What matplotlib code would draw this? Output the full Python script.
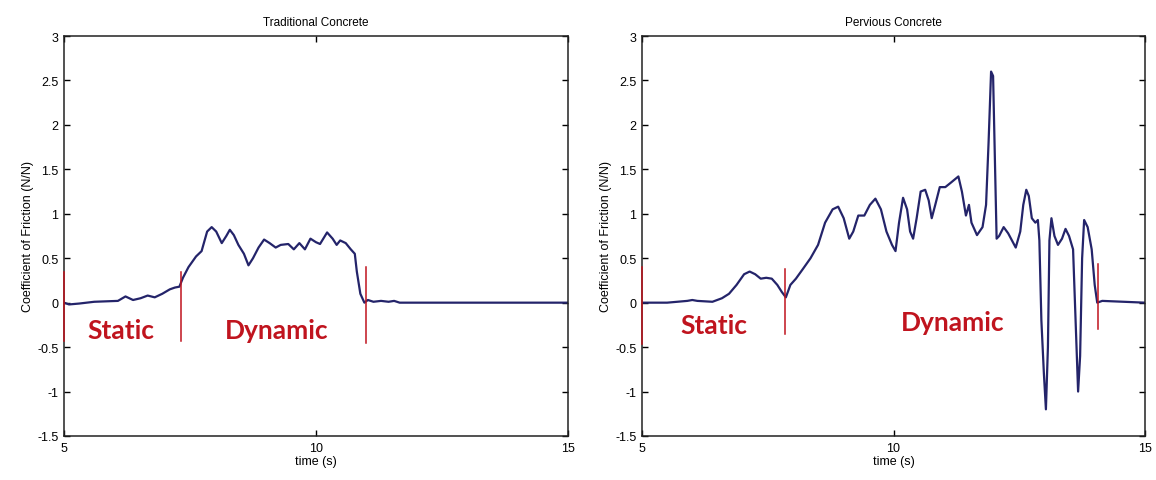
import matplotlib
matplotlib.use("Agg")
import matplotlib.pyplot as plt
import numpy as np

# Traditional concrete trace
trad_t = [5.0, 5.1, 5.3, 5.6, 6.07, 6.22, 6.37, 6.52, 6.66, 6.8, 6.95, 7.1, 7.2, 7.29, 7.36, 7.47,
          7.62, 7.73, 7.84, 7.93, 8.02, 8.13, 8.22, 8.29, 8.37, 8.46, 8.57, 8.66, 8.75, 8.86,
          8.97, 9.08, 9.2, 9.3, 9.45, 9.56, 9.67, 9.78, 9.89, 10.0, 10.08, 10.22, 10.33, 10.41,
          10.48, 10.59, 10.69, 10.77, 10.81, 10.88, 10.96, 11.03, 11.14, 11.29, 11.44, 11.55,
          11.66, 15.0]
trad_mu = [0.0, -0.02, -0.01, 0.01, 0.02, 0.07, 0.03, 0.05, 0.08, 0.06, 0.1, 0.15, 0.17, 0.18,
           0.28, 0.4, 0.52, 0.58, 0.8, 0.85, 0.8, 0.67, 0.75, 0.82, 0.76, 0.65, 0.55, 0.42, 0.5,
           0.62, 0.71, 0.67, 0.62, 0.65, 0.66, 0.6, 0.67, 0.6, 0.72, 0.68, 0.66, 0.79, 0.72,
           0.65, 0.7, 0.67, 0.6, 0.55, 0.35, 0.1, 0.0, 0.03, 0.01, 0.02, 0.01, 0.02, 0.0, 0.0]

# Pervious concrete trace
perv_t = [5.0, 5.5, 5.9, 6.0, 6.1, 6.4, 6.59, 6.73, 6.88, 7.03, 7.14, 7.25, 7.36, 7.47, 7.58,
          7.69, 7.78, 7.86, 7.95, 8.06, 8.2, 8.35, 8.5, 8.64, 8.79, 8.9, 9.01, 9.12, 9.2, 9.3,
          9.42, 9.53, 9.64, 9.75, 9.86, 9.97, 10.04, 10.11, 10.19, 10.27, 10.33, 10.39, 10.46,
          10.54, 10.63, 10.7, 10.76, 10.83, 10.92, 11.03, 11.14, 11.29, 11.36, 11.44, 11.5,
          11.55, 11.66, 11.77, 11.84, 11.89, 11.94, 11.98, 12.02, 12.05, 12.1, 12.19, 12.28,
          12.43, 12.52, 12.58, 12.64, 12.69, 12.75, 12.82, 12.87, 12.9, 12.94, 12.99, 13.03,
          13.07, 13.1, 13.14, 13.2, 13.27, 13.35, 13.42, 13.49, 13.57, 13.62, 13.67, 13.71,
          13.75, 13.79, 13.86, 13.94, 14.0, 14.05, 14.15, 15.0]
perv_mu = [0.0, 0.0, 0.02, 0.03, 0.02, 0.01, 0.05, 0.1, 0.2, 0.32, 0.35, 0.32, 0.27, 0.28, 0.27,
           0.2, 0.12, 0.06, 0.2, 0.27, 0.38, 0.5, 0.65, 0.9, 1.05, 1.08, 0.95, 0.72, 0.8, 0.98,
           0.98, 1.1, 1.17, 1.05, 0.8, 0.65, 0.58, 0.9, 1.18, 1.05, 0.8, 0.72, 0.95,
           1.25, 1.27, 1.15, 0.95, 1.1, 1.3, 1.3, 1.35, 1.42, 1.25, 0.98, 1.1,
           0.9, 0.76, 0.85, 1.1, 1.8, 2.6, 2.55, 1.5, 0.72, 0.75, 0.85, 0.78,
           0.62, 0.8, 1.1, 1.27, 1.2, 0.95, 0.9, 0.93, 0.7, -0.2, -0.8, -1.2,
           -0.5, 0.7, 0.95, 0.75, 0.65, 0.72, 0.83, 0.75, 0.6, -0.2, -1.0, -0.6,
           0.5, 0.93, 0.85, 0.6, 0.2, 0.0, 0.02, 0.0]

titles = ["Traditional Concrete", "Pervious Concrete"]
x_ticks = [5, 10, 15]
y_ticks = [-1.5, -1, -0.5, 0, 0.5, 1, 1.5, 2, 2.5, 3]
y_tick_labels = ["-1.5", "-1", "-0.5", "0", "0.5", "1", "1.5", "2", "2.5", "3"]

# phase markers: (x, y_low, y_high)
trad_markers = [(5.0, -0.43, 0.35), (7.32, -0.43, 0.35), (11.0, -0.45, 0.4)]
perv_markers = [(5.0, -0.47, 0.4), (7.84, -0.35, 0.38), (14.07, -0.3, 0.43)]
trad_labels = [("Static", 6.12, -0.31), ("Dynamic", 9.22, -0.31)]
perv_labels = [("Static", 6.43, -0.25), ("Dynamic", 11.18, -0.22)]

fig = plt.figure(figsize=(11.56, 4.81), dpi=100)
fig.patch.set_facecolor("white")
ax1 = fig.add_axes([64/1156, 44/481, 504/1156, 400/481])
ax2 = fig.add_axes([642/1156, 44/481, 503/1156, 400/481])

line_color = "#24246a"
red = "#c0141e"

for ax, t, mu, title, markers, labels in [
        (ax1, trad_t, trad_mu, titles[0], trad_markers, trad_labels),
        (ax2, perv_t, perv_mu, titles[1], perv_markers, perv_labels)]:
    ax.plot(t, mu, color=line_color, lw=1.6)
    for (mx, lo, hi) in markers:
        ax.plot([mx, mx], [lo, hi], color=red, lw=1.1, zorder=5, clip_on=False)
    for (txt, lx, ly) in labels:
        ax.text(lx, ly, txt, color=red, fontsize=19, fontweight="bold",
                family="Lato", ha="center", va="center")
    ax.set_xlim(5, 15)
    ax.set_ylim(-1.5, 3)
    ax.set_xticks(x_ticks)
    ax.set_yticks(y_ticks)
    ax.set_yticklabels(y_tick_labels)
    ax.tick_params(direction="in", top=True, right=True, length=4, width=1,
                   labelsize=9, pad=4)
    for lab in ax.get_xticklabels() + ax.get_yticklabels():
        lab.set_family("Liberation Sans")
    for sp in ax.spines.values():
        sp.set_linewidth(1.1)
        sp.set_color("#222222")
    ax.set_title(title, fontsize=8.5, family="Liberation Sans", pad=8)
    ax.set_xlabel("time (s)", fontsize=9, family="Liberation Sans", labelpad=1)
    ax.set_ylabel("Coefficient of Friction (N/N)", fontsize=9,
                  family="Liberation Sans", labelpad=2)

fig.savefig("out.png", dpi=100)
